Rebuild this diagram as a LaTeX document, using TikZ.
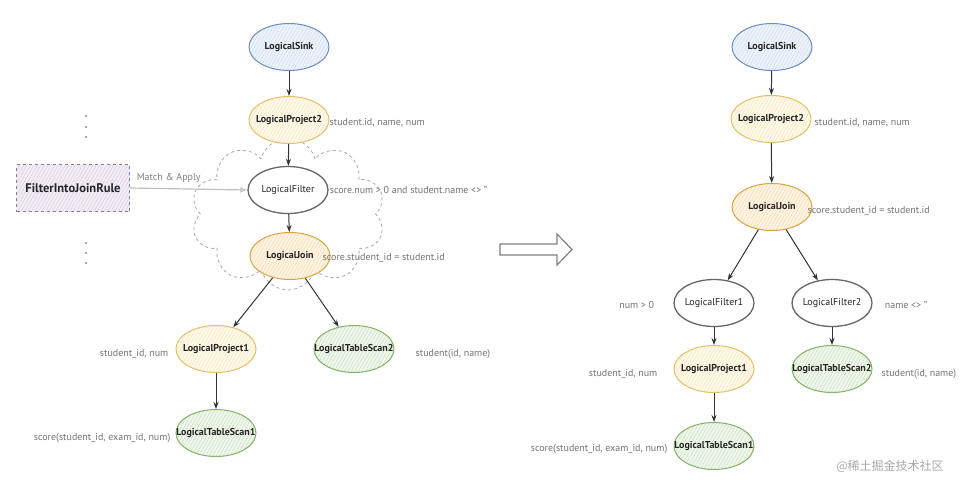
\documentclass[tikz,border=0pt]{standalone}
\usepackage{fontspec}
\setmainfont{PT Sans}
\newfontfamily\cjkfont{Noto Sans CJK SC}
\usetikzlibrary{arrows.meta,positioning,shapes.geometric,shapes.symbols,patterns.meta}
\definecolor{sinkc}{HTML}{6C8EBF}\definecolor{sinkf}{HTML}{EEF3FB}\definecolor{sinkh}{HTML}{C9D8EE}
\definecolor{prjc}{HTML}{E3C06B}\definecolor{prjf}{HTML}{FFF9EA}\definecolor{prjh}{HTML}{F3E2B0}
\definecolor{joinc}{HTML}{D9A441}\definecolor{joinf}{HTML}{FFF3E2}\definecolor{joinh}{HTML}{F2D7AD}
\definecolor{tsc}{HTML}{82B366}\definecolor{tsf}{HTML}{F0F7EC}\definecolor{tsh}{HTML}{C5DDB8}
\definecolor{rulec}{HTML}{9673A6}\definecolor{rulef}{HTML}{F3EEF6}\definecolor{ruleh}{HTML}{D5C6DE}

\begin{document}
\begin{tikzpicture}[
  x=1pt,y=-1pt,
  font=\fontsize{10}{12}\selectfont,
  node distance=4pt,
  op/.style={ellipse,draw,line width=1pt,minimum width=80pt,minimum height=47pt,inner xsep=-12pt,inner ysep=2pt,text=black!85,font=\fontsize{10}{12}\selectfont\bfseries},
  hatch/.style={pattern={Lines[angle=60,distance=3pt,line width=0.4pt]},pattern color=#1},
  sinkop/.style={op,draw=sinkc,preaction={fill=sinkf},hatch=sinkh},
  prjop/.style={op,draw=prjc,preaction={fill=prjf},hatch=prjh},
  joinop/.style={op,draw=joinc,preaction={fill=joinf},hatch=joinh},
  fltop/.style={op,draw=black!60,line width=1.3pt,fill=white,font=\fontsize{10}{12}\selectfont},
  scanop/.style={op,draw=tsc,preaction={fill=tsf},hatch=tsh},
  rulebox/.style={draw=rulec,dashed,line width=1pt,minimum width=113pt,minimum height=47pt,preaction={fill=rulef},hatch=ruleh,font=\fontsize{12.5}{14}\selectfont\bfseries,text=black!85},
  note/.style={text=black!55,inner sep=0pt},
  arr/.style={-{Stealth[length=7pt,width=5pt]},line width=1pt,draw=black!80},
  apply/.style={-{Latex[open,length=7pt,width=6pt]},line width=1.2pt,draw=black!25}
]
\useasboundingbox (0,0) rectangle (977,482);

\node[cloud,cloud puffs=10,draw=black!35,dashed,line width=0.8pt,minimum width=194pt,minimum height=152pt] (cl) at (288,214) {};

\node[sinkop] (lsink) at (289,47) {LogicalSink};
\node[prjop] (lp2) at (289,120) {LogicalProject2};
\node[fltop] (lf) at (288,190) {LogicalFilter};
\node[joinop] (lj) at (290,256) {LogicalJoin};
\node[prjop] (lp1) at (216,349) {LogicalProject1};
\node[scanop] (lt2) at (354,349) {LogicalTableScan2};
\node[scanop] (lt1) at (216,433) {LogicalTableScan1};
\draw[arr] (lsink)--(lp2); \draw[arr] (lp2)--(lf); \draw[arr] (lf)--(lj);
\draw[arr] (lj)--(lp1); \draw[arr] (lj)--(lt2); \draw[arr] (lp1)--(lt1);

\node[note,right=0pt of lp2,yshift=-3pt] (c1) {student.id, name, num};
\node[note,right=1pt of lf] (c2) {score.num > 0 and student.name <> ''};
\node[note,right=-8pt of lj,yshift=-2pt] (c3) {score.student\_id = student.id};
\node[note,left=7pt of lp1,yshift=-5pt] (c4) {student\_id, num};
\node[note,right=21pt of lt2,yshift=-5pt] (c5) {student(id, name)};
\node[note,left=5pt of lt1,yshift=-5pt] (c6) {score(student\_id, exam\_id, num)};

\node[rulebox] (rule) at (73,188) {FilterIntoJoinRule};
\draw[apply] (rule.east)--(lf.west) node[pos=0.33,above=2pt,text=black!50] (ma) {Match \& Apply};
\foreach \y in {116,127,137,243,253,263} \fill[black!45] (86,\y) circle (1.1pt);

\draw[black!50,line width=1.2pt,fill=white] (500,244)--(557,244)--(557,234)--(572,249.5)--(557,265)--(557,255)--(500,255)--cycle;

\node[sinkop] (rsink) at (772,47) {LogicalSink};
\node[prjop] (rp2) at (771,119) {LogicalProject2};
\node[joinop] (rj) at (772,207) {LogicalJoin};
\node[fltop] (rf1) at (714,303) {LogicalFilter1};
\node[fltop] (rf2) at (832,303) {LogicalFilter2};
\node[prjop] (rp1) at (714,369) {LogicalProject1};
\node[scanop] (rt2) at (832,369) {LogicalTableScan2};
\node[scanop] (rt1) at (714,446) {LogicalTableScan1};
\draw[arr] (rsink)--(rp2); \draw[arr] (rp2)--(rj);
\draw[arr] (rj)--(rf1); \draw[arr] (rj)--(rf2);
\draw[arr] (rf1)--(rp1); \draw[arr] (rp1)--(rt1); \draw[arr] (rf2)--(rt2);

\node[note,right=3pt of rp2,yshift=-4pt] (d1) {student.id, name, num};
\node[note,right=-5pt of rj,yshift=-4pt] (d2) {score.student\_id = student.id};
\node[note,left=19pt of rf1,yshift=-2pt] (d3) {num > 0};
\node[note,right=12pt of rf2,yshift=-2pt] (d4) {name <> ''};
\node[note,left=16pt of rp1,yshift=-5pt] (d5) {student\_id, num};
\node[note,right=9pt of rt2,yshift=-5pt] (d6) {student(id, name)};
\node[note,left=6pt of rt1,yshift=-3pt] (d7) {score(student\_id, exam\_id, num)};

\node[text=black!35,font=\cjkfont\fontsize{12}{14}\selectfont] (wm) at (890,466) {@稀土掘金技术社区};
\end{tikzpicture}
\end{document}
